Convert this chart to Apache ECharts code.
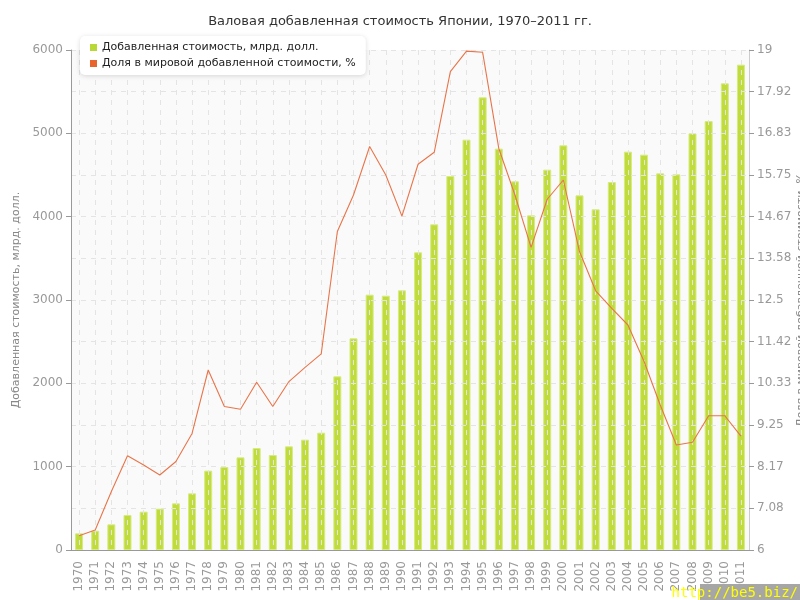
<!DOCTYPE html>
<html>
<head>
<meta charset="utf-8">
<script src="https://cdn.jsdelivr.net/npm/echarts@6/dist/echarts.min.js"></script>
<style>html,body{margin:0;padding:0;background:#fff}#c{width:800px;height:600px}</style>
</head>
<body>
<div id="c"></div>
<script>
const years = ['1970','1971','1972','1973','1974','1975','1976','1977','1978','1979','1980','1981','1982','1983','1984','1985','1986','1987','1988','1989','1990','1991','1992','1993','1994','1995','1996','1997','1998','1999','2000','2001','2002','2003','2004','2005','2006','2007','2008','2009','2010','2011'];
const valueAdded = [200,232,308,420,460,496,560,680,952,996,1112,1224,1140,1244,1324,1408,2084,2540,3064,3052,3116,3572,3908,4488,4924,5432,4816,4424,4016,4564,4856,4256,4088,4416,4780,4744,4520,4508,5000,5148,5600,5824];
const worldShare = [6.37,6.52,7.52,8.45,8.21,7.95,8.30,9.03,10.68,9.73,9.66,10.36,9.73,10.38,10.75,11.10,14.28,15.23,16.49,15.75,14.68,16.03,16.34,18.44,18.97,18.94,16.44,15.23,13.87,15.12,15.62,13.76,12.74,12.28,11.85,10.90,9.77,8.73,8.80,9.49,9.49,8.96];
const titleText = 'Валовая добавленная стоимость Японии, 1970–2011 гг.';
const barName = 'Добавленная стоимость, млрд. долл.';
const lineName = 'Доля в мировой добавленной стоимости, %';

const font = 'DejaVu Sans';
const gLeft = 71, gRight = 51, W = 800;
const half = (W - gLeft - gRight) / years.length / 2;
const chart = echarts.init(document.getElementById('c'));
chart.setOption({
  animation: false,
  backgroundColor: '#fff',
  title: {text: titleText, left: 'center', top: 10, textStyle: {fontFamily: font, fontSize: 13, fontWeight: 'normal', color: '#333'}},
  legend: {
    orient: 'vertical', left: 80, top: 36, padding: [6, 10, 6, 10], itemGap: 5,
    backgroundColor: '#fff', borderRadius: 5, shadowColor: 'rgba(0,0,0,0.15)', shadowBlur: 5, shadowOffsetY: 1,
    itemWidth: 7, itemHeight: 7, icon: 'rect',
    textStyle: {fontFamily: font, fontSize: 11, color: '#222'},
    data: [{name: barName, itemStyle: {color: '#b8d935', borderWidth: 0}}, {name: lineName, itemStyle: {color: '#e8642c'}}]
  },
  grid: [
    {left: gLeft, right: gRight, top: 50, bottom: 50, show: true, backgroundColor: '#fafafa', borderWidth: 0, containLabel: false, outerBoundsMode: 'none'},
    {left: gLeft + half, right: gRight + half, top: 50, bottom: 50, show: false, containLabel: false, outerBoundsMode: 'none'}
  ],
  xAxis: [
    {type: 'category', data: years, boundaryGap: true, gridIndex: 0, z: 3,
     axisLine: {lineStyle: {color: '#999', width: 1}},
     axisTick: {alignWithLabel: true, length: 5, lineStyle: {color: '#999'}},
     axisLabel: {rotate: 90, interval: 0, fontFamily: font, fontSize: 12, color: '#999', margin: 11},
     splitLine: {show: false}},
    {type: 'category', data: years, boundaryGap: false, gridIndex: 1, z: 3,
     axisLine: {show: false}, axisTick: {show: false}, axisLabel: {show: false},
     splitLine: {show: true, interval: 0, lineStyle: {color: '#e4e4e4', type: [5, 5]}}}
  ],
  yAxis: [
    {type: 'value', min: 0, max: 6000, interval: 1000, position: 'left', gridIndex: 0, z: 4,
     name: barName, nameLocation: 'middle', nameGap: 49, nameRotate: 90, nameMoveOverlap: false,
     nameTextStyle: {fontFamily: font, fontSize: 11, color: '#888'},
     axisLine: {show: true, lineStyle: {color: '#999'}},
     axisTick: {show: true, length: 5, lineStyle: {color: '#999'}},
     axisLabel: {fontFamily: font, fontSize: 12, color: '#999', margin: 8, formatter: v => String(v)},
     splitLine: {show: false}},
    {type: 'value', min: 6, max: 19, interval: 13/12, position: 'right', gridIndex: 0, z: 3,
     name: lineName, nameLocation: 'middle', nameGap: 47, nameRotate: 90, nameMoveOverlap: false,
     nameTextStyle: {fontFamily: font, fontSize: 11, color: '#888'},
     axisLine: {show: true, lineStyle: {color: '#ccc'}},
     axisTick: {show: true, length: 5, lineStyle: {color: '#999'}},
     axisLabel: {fontFamily: font, fontSize: 12, color: '#999', margin: 8,
       formatter: v => String(Math.round(v * 100) / 100)},
     splitLine: {show: true, lineStyle: {color: '#e4e4e4', type: [5, 5]}}},
    {type: 'value', gridIndex: 1, min: 0, max: 1, show: false, splitLine: {show: false}}
  ],
  series: [
    {name: barName, type: 'bar', data: valueAdded, xAxisIndex: 0, yAxisIndex: 0, barWidth: 8, z: 2,
     itemStyle: {color: '#c0dc3c', borderColor: '#d6ea80', borderWidth: 1}},
    {name: lineName, type: 'line', data: worldShare, xAxisIndex: 0, yAxisIndex: 1, z: 5, symbol: 'none',
     lineStyle: {color: '#e8754a', width: 1.1}, itemStyle: {color: '#e8642c'}}
  ],
  graphic: [
    {type: 'rect', right: 0, bottom: 0, shape: {width: 100, height: 16}, style: {fill: '#a6a6a6'}, z: 10},
    {type: 'text', right: 2, bottom: 0, style: {text: 'http://be5.biz/', fill: '#ffff00', font: '14px "DejaVu Sans Mono"'}, z: 11}
  ]
});
</script>
</body>
</html>
